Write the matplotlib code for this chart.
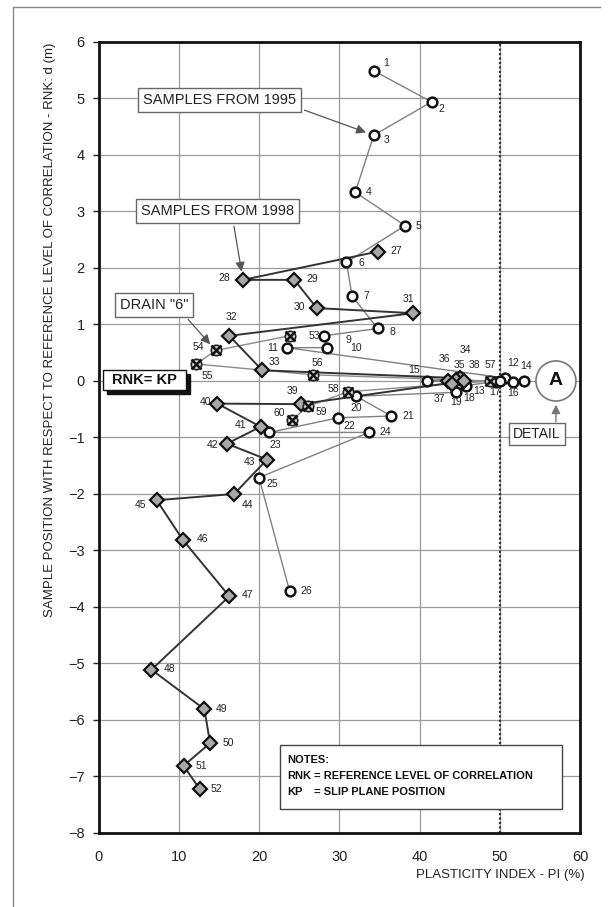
import numpy as np
import matplotlib; matplotlib.use("Agg")
import matplotlib.pyplot as plt
from matplotlib.patches import Rectangle, Ellipse
from matplotlib.lines import Line2D

plt.rcParams['font.family'] = ['Liberation Sans', 'DejaVu Sans']

# --- samples from 1995 (open circles) ---
ids_95 = list(range(1, 27))
pi_95 = [34.3, 41.5, 34.3, 32.0, 38.2, 30.9, 31.6, 34.8, 28.1, 28.5, 23.5, 50.7, 49.5,
         53.0, 40.9, 51.7, 50.0, 45.8, 44.6, 32.1, 36.5, 29.9, 21.3, 33.7, 20.0, 23.8]
d_95 = [5.49, 4.94, 4.35, 3.34, 2.75, 2.10, 1.50, 0.93, 0.80, 0.59, 0.59, 0.05, -0.02,
        0.0, 0.0, -0.01, 0.0, -0.08, -0.20, -0.27, -0.62, -0.65, -0.91, -0.91, -1.71, -3.71]

# --- samples from 1998 (grey diamonds) ---
ids_98 = list(range(27, 53))
pi_98 = [34.8, 18.0, 24.4, 27.2, 39.2, 16.3, 20.4, 45.0, 44.6, 43.6, 44.0, 45.5, 25.2,
         14.8, 20.2, 16.0, 21.0, 16.9, 7.25, 10.5, 16.3, 6.6, 13.2, 13.9, 10.6, 12.6]
d_98 = [2.29, 1.79, 1.79, 1.29, 1.20, 0.80, 0.19, 0.05, 0.02, 0.0, -0.05, 0.0, -0.41,
        -0.40, -0.81, -1.11, -1.39, -2.0, -2.11, -2.81, -3.81, -5.11, -5.81, -6.41, -6.81, -7.22]

# --- drain "6" samples (crossed markers) ---
ids_dr = list(range(53, 61))
pi_dr = [23.8, 14.6, 12.2, 26.7, 48.75, 31.1, 26.1, 24.1]
d_dr = [0.80, 0.54, 0.30, 0.11, 0.0, -0.19, -0.45, -0.69]

# label offsets in pixels (dx, dy up)
lab_off = {1: (12, 8), 2: (10, -7), 3: (13, -5), 4: (13, 0), 5: (13, 0), 6: (15, -1),
           7: (14, 0), 8: (15, -4), 9: (24, -4), 10: (29, 0), 11: (-14, 0), 12: (8, 15),
           13: (-17, -9), 14: (2, 15), 15: (-13, 11), 16: (0, -11), 17: (-5, -11),
           18: (3, -12), 19: (0, -10), 20: (0, -12), 21: (17, 0), 22: (11, -8),
           23: (6, -13), 24: (16, 0), 25: (13, -6), 26: (17, 0), 27: (18, 1),
           28: (-19, 2), 29: (18, 1), 30: (-17, 1), 31: (-5, 14), 32: (2, 19),
           33: (12, 8), 34: (6, 28), 35: (3, 15), 36: (-4, 22), 37: (-12, -15),
           38: (11, 16), 39: (-8, 13), 40: (-12, 2), 41: (-20, 2), 42: (-14, -1),
           43: (-18, -2), 44: (13, -11), 45: (-16, -5), 46: (20, 1), 47: (18, 1),
           48: (18, 1), 49: (17, 0), 50: (18, 0), 51: (18, 0), 52: (17, 0),
           53: (25, 0), 54: (-17, 3), 55: (11, -12), 56: (5, 12), 57: (1, 16),
           58: (-15, 3), 59: (13, -6), 60: (-13, 7)}

fig = plt.figure(figsize=(6.13, 9.07), dpi=100)
ax = fig.add_axes([0.1607, 0.0816, 0.7855, 0.8721])
ax.set_xlim(0, 60); ax.set_ylim(-8, 6)
ax.set_xticks(range(0, 61, 10)); ax.set_yticks(range(-8, 7))
ax.grid(True, color="#9a9a9a", lw=0.9)
ax.set_axisbelow(True)
for s in ax.spines.values():
    s.set_linewidth(2.0); s.set_color("#111")
ax.tick_params(axis="both", labelsize=10.5, colors="#222", length=4, width=1)
ax.tick_params(axis="x", length=0, pad=12)
ax.tick_params(axis="y", pad=6)
ax.axvline(50, ls=(0, (1, 1)), color="#333", lw=1.6, zorder=1)

# connecting lines
ax.plot(pi_95, d_95, "-", color="#808080", lw=1.0, zorder=2)
ax.plot(pi_dr, d_dr, "-", color="#8a8a8a", lw=1.0, zorder=2)
ax.plot(pi_98, d_98, "-", color="#333", lw=1.4, zorder=3)
# markers
ax.plot(pi_95, d_95, "o", ms=7, mfc="white", mec="#111", mew=1.8, ls="none", zorder=5)
ax.plot(pi_98, d_98, "D", ms=7, mfc="#a8a8a8", mec="#111", mew=1.6, ls="none", zorder=5)
ax.plot(pi_dr, d_dr, "o", ms=7.5, mfc="#d8d8d8", mec="#222", mew=1.2, ls="none", zorder=5)
ax.plot(pi_dr, d_dr, "x", ms=6.5, mec="#111", mew=1.8, ls="none", zorder=6)

for ids, xs, ys in [(ids_95, pi_95, d_95), (ids_98, pi_98, d_98), (ids_dr, pi_dr, d_dr)]:
    for i, x, y in zip(ids, xs, ys):
        dx, dy = lab_off[i]
        ax.annotate(str(i), (x, y), xytext=(dx, dy), textcoords="offset pixels",
                    ha="center", va="center", fontsize=7.5, color="#222", zorder=7)

box = dict(boxstyle="square,pad=0.35", fc="white", ec="#666", lw=1.0)
arr = dict(arrowstyle="-|>", color="#555", lw=0.9, mutation_scale=14, shrinkB=6)
ax.annotate("SAMPLES FROM 1995", xy=(pi_95[2], d_95[2]), xytext=(15.1, 4.97),
            ha="center", va="center", fontsize=10.5, color="#222", bbox=box,
            arrowprops=dict(arr, relpos=(1.0, 0.0)), zorder=8)
ax.annotate("SAMPLES FROM 1998", xy=(pi_98[1], d_98[1]), xytext=(14.8, 3.01),
            ha="center", va="center", fontsize=10.5, color="#222", bbox=box,
            arrowprops=dict(arr, relpos=(0.6, 0.0)), zorder=8)
ax.annotate('DRAIN "6"', xy=(pi_dr[1], d_dr[1]), xytext=(6.9, 1.35),
            ha="center", va="center", fontsize=10.5, color="#222", bbox=box,
            arrowprops=dict(arr, relpos=(0.9, 0.0)), zorder=8)

# RNK = KP box with shadow
ax.add_patch(Rectangle((1.05, -0.23), 10.4, 0.36, fc="#111", ec="#111", zorder=8))
ax.add_patch(Rectangle((0.56, -0.16), 10.4, 0.36, fc="white", ec="#111", lw=1.0, zorder=9))
ax.text(5.76, 0.02, "RNK= KP", ha="center", va="center", fontsize=10.5,
        fontweight="bold", color="#111", zorder=10)

# detail circle
ax.add_patch(Ellipse((57.0, 0.0), 4.98, 0.71, fc="white", ec="#777", lw=1.2, zorder=8))
ax.text(57.0, 0.0, "A", ha="center", va="center", fontsize=14, fontweight="bold",
        color="#111", zorder=9)
ax.annotate("", xy=(57.0, -0.37), xytext=(57.0, -0.77),
            arrowprops=dict(arrowstyle="-|>", color="#777", lw=1.0, mutation_scale=13))
ax.text(54.6, -0.94, "DETAIL", ha="center", va="center", fontsize=10, color="#222",
        bbox=dict(boxstyle="square,pad=0.3", fc="white", ec="#666", lw=1.0), zorder=8)

# notes box
ax.add_patch(Rectangle((22.6, -7.58), 35.1, 1.14, fc="white", ec="#444", lw=1.0, zorder=8))
ax.text(23.5, -6.71, "NOTES:", fontsize=8, fontweight="bold", va="center", color="#111", zorder=9)
ax.text(23.5, -6.99, "RNK", fontsize=8, fontweight="bold", va="center", color="#111", zorder=9)
ax.text(26.8, -6.99, "= REFERENCE LEVEL OF CORRELATION", fontsize=8, fontweight="bold",
        va="center", color="#111", zorder=9)
ax.text(23.5, -7.27, "KP", fontsize=8, fontweight="bold", va="center", color="#111", zorder=9)
ax.text(26.8, -7.27, "= SLIP PLANE POSITION", fontsize=8, fontweight="bold",
        va="center", color="#111", zorder=9)

ax.set_xlabel("PLASTICITY INDEX - PI (%)", fontsize=9.5, color="#222")
ax.xaxis.set_label_coords(1.01, -0.045)
ax.xaxis.label.set_ha("right")
fig.text(50 / 613, 1 - 330 / 907,
         "SAMPLE POSITION WITH RESPECT TO REFERENCE LEVEL OF CORRELATION - RNK: d (m)",
         rotation=90, ha="center", va="center", fontsize=9.5, color="#222",
         family=["Liberation Sans Narrow", "Liberation Sans"])

# outer frame lines
fig.add_artist(Line2D([13 / 613, 13 / 613], [0, 1 - 7 / 907], color="#888", lw=1.0))
fig.add_artist(Line2D([13 / 613, 600 / 613], [1 - 7 / 907, 1 - 7 / 907], color="#888", lw=1.0))

fig.savefig("out.png", dpi=100)
